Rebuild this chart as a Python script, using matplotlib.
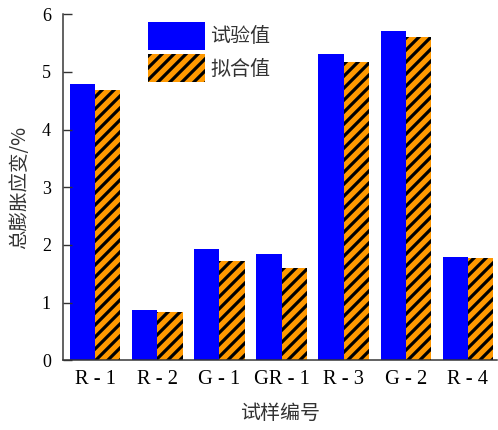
import numpy as np
import matplotlib
matplotlib.use("Agg")
import matplotlib.pyplot as plt

# at 72 dpi one point is one pixel, which also sets the hatch spacing
DPI = 72
plt.rcParams['font.family'] = ['Liberation Serif', 'Noto Sans CJK SC']
plt.rcParams['hatch.linewidth'] = 3.2

# Total swelling strain per specimen (%)
samples = ["R - 1", "R - 2", "G - 1", "GR - 1", "R - 3", "G - 2", "R - 4"]
measured = [4.79, 0.87, 1.93, 1.84, 5.31, 5.71, 1.79]
fitted = [4.69, 0.83, 1.72, 1.60, 5.17, 5.61, 1.77]

x = np.arange(len(samples))
w = 0.405

fig = plt.figure(figsize=(498 / DPI, 430 / DPI), dpi=DPI)
ax = fig.add_axes([63 / 498, 1 - 360.3 / 430, 434 / 498, 346 / 430])

ax.bar(x - w / 2, measured, w, color="#0000FF", linewidth=0, label="试验值")
ax.bar(x + w / 2, fitted, w, color="#FF9900", edgecolor="black", linewidth=0,
       hatch="//", label="拟合值")

ax.set_xlim(-0.52, 6.47)
ax.set_ylim(0, 6)
ax.set_yticks(range(7))
ax.set_xticks(x)
ax.set_xticklabels(samples)

ax.tick_params(axis="y", direction="in", length=9, width=1.4, labelsize=18,
               pad=12, colors="#333333", labelcolor="black")
ax.tick_params(axis="x", length=0, labelsize=20.5, pad=10, labelcolor="black")

for side in ("top", "right"):
    ax.spines[side].set_visible(False)
for side in ("left", "bottom"):
    ax.spines[side].set_linewidth(1.5)
    ax.spines[side].set_color("#333333")

cjk = ["Noto Sans CJK SC", "DejaVu Sans"]
ax.set_ylabel("总膨胀应变/%", family=cjk, fontsize=19.5, color="#333333")
ax.set_xlabel("试样编号", family=cjk, fontsize=20, color="#333333")
ax.yaxis.set_label_coords(-0.0765, 0.5)
ax.xaxis.set_label_coords(0.5, -0.1236)

ax.legend(loc="upper left", bbox_to_anchor=(0.196, 0.978), frameon=False,
          prop={"family": cjk, "size": 20}, handlelength=2.85,
          handleheight=1.78, labelspacing=0.22, handletextpad=0.25,
          borderpad=0, borderaxespad=0, labelcolor="#333333")

fig.savefig("out.png", dpi=DPI)
